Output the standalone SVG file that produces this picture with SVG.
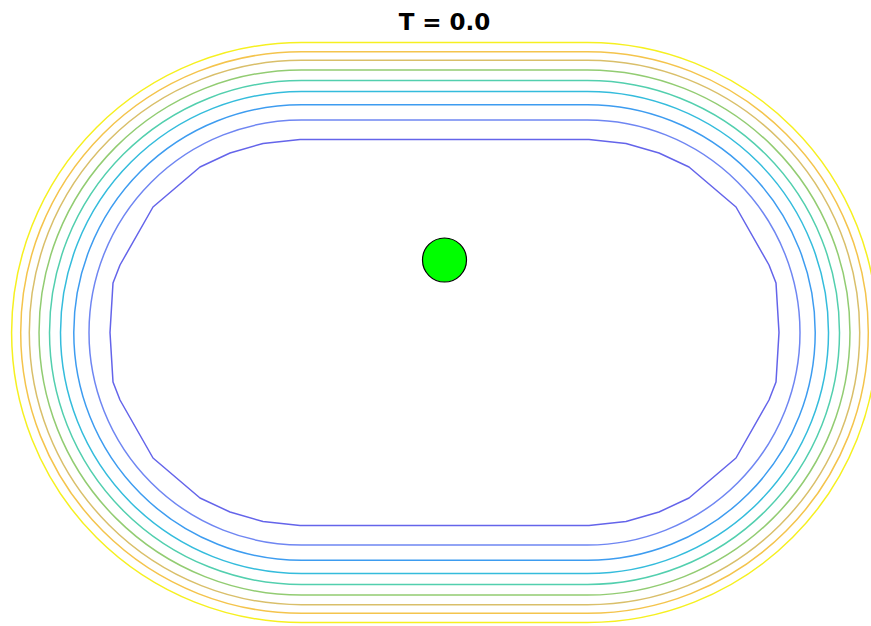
<svg xmlns="http://www.w3.org/2000/svg" width="871" height="626" viewBox="0 0 871 626">
<style>
.c{fill:none;stroke-width:1.5;stroke-linejoin:round}
.t{font-family:"DejaVu Sans","Liberation Sans",sans-serif;font-weight:bold;font-size:23px;fill:#000}
</style>
<rect width="871" height="626" fill="#fff"/>
<text class="t" x="444.5" y="30" text-anchor="middle">T = 0.0</text>
<g id="contours">
<path id="c1" class="c" stroke="#f6f020" d="M301.5 42.5H587.5A290 290 0 0 1 587.5 622.5H301.5A290 290 0 0 1 301.5 42.5Z"/>
<path id="c2" class="c" stroke="#f4c44c" d="M301.5 51.7H587.5A280.8 280.8 0 0 1 587.5 613.3H301.5A280.8 280.8 0 0 1 301.5 51.7Z"/>
<path id="c3" class="c" stroke="#d9bf6a" d="M301.5 60.3H587.5A272.2 272.2 0 0 1 587.5 604.7H301.5A272.2 272.2 0 0 1 301.5 60.3Z"/>
<path id="c4" class="c" stroke="#92cc72" d="M301.5 69.9H587.5A262.6 262.6 0 0 1 587.5 595.1H301.5A262.6 262.6 0 0 1 301.5 69.9Z"/>
<path id="c5" class="c" stroke="#52cfae" d="M301.5 80.5H587.5A252 252 0 0 1 587.5 584.5H301.5A252 252 0 0 1 301.5 80.5Z"/>
<path id="c6" class="c" stroke="#34bcdc" d="M301.5 91.5H587.5A241 241 0 0 1 587.5 573.5H301.5A241 241 0 0 1 301.5 91.5Z"/>
<path id="c7" class="c" stroke="#3d9cf0" d="M301.5 104.7H587.5A227.8 227.8 0 0 1 587.5 560.3H301.5A227.8 227.8 0 0 1 301.5 104.7Z"/>
<path id="c8" class="c" stroke="#6f86f2" d="M301.5 120H587.5A212.5 212.5 0 0 1 587.5 545H301.5A212.5 212.5 0 0 1 301.5 120Z"/>
<path id="c9" class="c" stroke="#6464ea" d="M300 139.5L589 139.5L626 143.5L659 153L689 167L736 207L769 265L776 283L779 332.5L776 382L769 400L736 458L689 498L659 512L626 521.5L589 525.5L300 525.5L263 521.5L230 512L200 498L153 458L120 400L113 382L110 332.5L113 283L120 265L153 207L200 167L230 153L263 143.5Z"/>
</g>
<g id="particle">
<circle cx="444.5" cy="260" r="22" fill="#00ff00" stroke="#000" stroke-width="1.2"/>
</g>
</svg>
